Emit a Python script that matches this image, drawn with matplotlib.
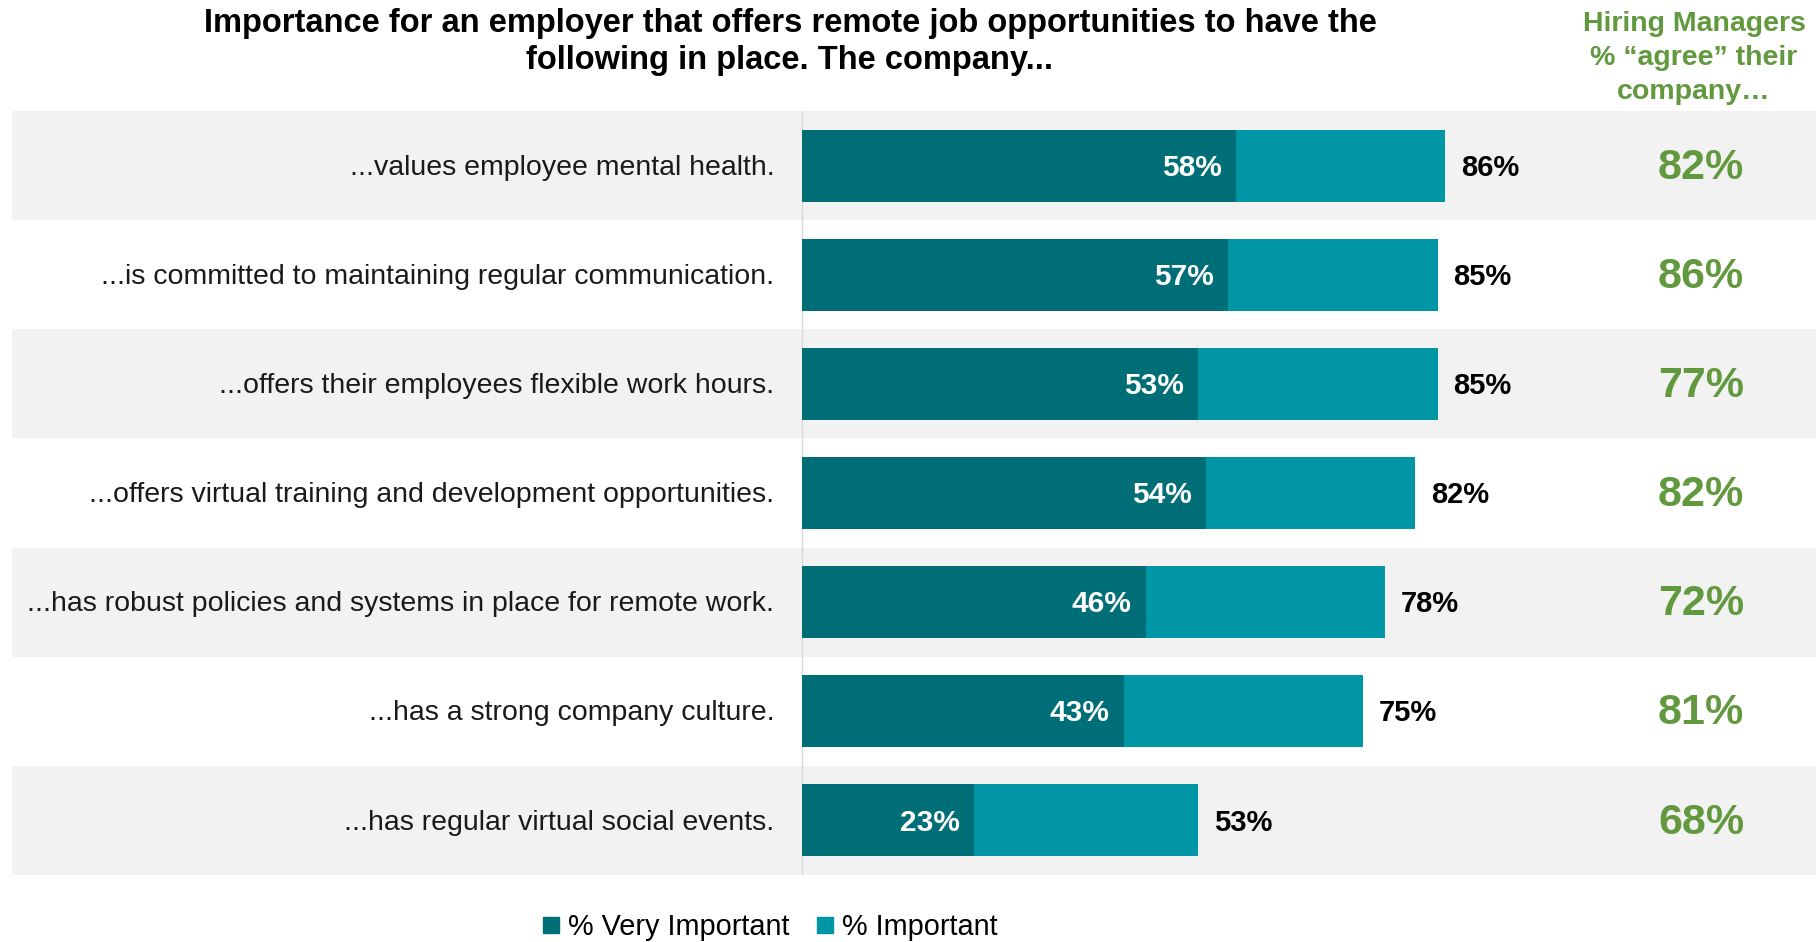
import matplotlib.pyplot as plt
from matplotlib.lines import Line2D

plt.rcParams['font.family'] = ['Liberation Sans', 'DejaVu Sans']

# data
items = ['...values employee mental health.',
         '...is committed to maintaining regular communication.',
         '...offers their employees flexible work hours.',
         '...offers virtual training and development opportunities.',
         '...has robust policies and systems in place for remote work.',
         '...has a strong company culture.',
         '...has regular virtual social events.']
very_important = [58, 57, 53, 54, 46, 43, 23]
total_important = [86, 85, 85, 82, 78, 75, 53]
managers_agree = [82, 86, 77, 82, 72, 81, 68]

dark = '#006e76'
light = '#0096a6'
green = '#62993e'

W, H = 1816, 942
fig = plt.figure(figsize=(W / 100, H / 100), dpi=100)
# axes spans full band area, x in % units (0 at px 802, 7.48 px per %)
ax = fig.add_axes([12 / W, 1 - 875 / H, (W - 12) / W, (875 - 111) / H])
px = 7.48
ax.set_xlim((12 - 802) / px, (W - 802) / px)
ax.set_ylim(len(items) - 0.5, -0.5)
ax.axis('off')

for i in range(len(items)):
    if i % 2 == 0:
        ax.axhspan(i - 0.5, i + 0.5, color='#f2f2f2', zorder=0, lw=0)

ax.axvline(0, color='#d9d9d9', lw=1, zorder=1)

y = list(range(len(items)))
rest = [t - v for t, v in zip(total_important, very_important)]
ax.barh(y, very_important, height=0.66, color=dark, zorder=2)
ax.barh(y, rest, left=very_important, height=0.66, color=light, zorder=2)

dy = 0.02  # small nudge so text sits on the bar centre
for i in y:
    ax.text(-3.7, i + dy, items[i], ha='right', va='center', fontsize=20.5, color='#1a1a1a')
    ax.text(very_important[i] - 1.9, i + dy, f'{very_important[i]}%', ha='right', va='center',
            fontsize=21.5, fontweight='bold', color='white', zorder=3)
    ax.text(total_important[i] + 2.1, i + dy, f'{total_important[i]}%', ha='left', va='center',
            fontsize=21, fontweight='bold', color='black')
    ax.text((1701 - 802) / px, i + dy, f'{managers_agree[i]}%', ha='center', va='center',
            fontsize=31, fontweight='bold', color=green)

fig.text(790 / W, 1 - 42 / H,
         'Importance for an employer that offers remote job opportunities to have the\n'
         'following in place. The company...',
         ha='center', va='center', fontsize=23.5, fontweight='bold', linespacing=1.25)
fig.text(1694 / W, 1 - 58 / H, 'Hiring Managers\n% \u201cagree\u201d their\ncompany\u2026',
         ha='center', va='center', fontsize=20.5, fontweight='bold', color=green, linespacing=1.42)

handles = [Line2D([], [], marker='s', ls='', color=dark, markersize=11),
           Line2D([], [], marker='s', ls='', color=light, markersize=11)]
fig.legend(handles, ['% Very Important', '% Important'], loc='center',
           bbox_to_anchor=(770 / W, 1 - 927 / H), ncol=2, frameon=False,
           fontsize=20.8, handlelength=0.6, handletextpad=0.3, columnspacing=0.9)

fig.savefig('out.png', dpi=100)
